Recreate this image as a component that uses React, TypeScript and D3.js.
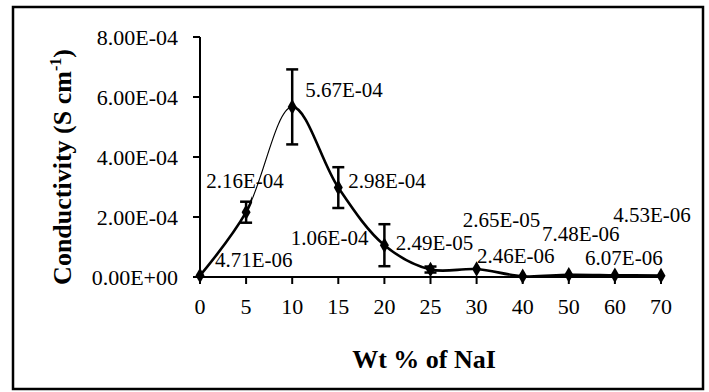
import React from "react";
import * as d3 from "d3";

const categories = ["0", "5", "10", "15", "20", "25", "30", "40", "50", "60", "70"];
const values = [4.71e-6, 2.16e-4, 5.67e-4, 2.98e-4, 1.06e-4, 2.49e-5, 2.65e-5, 2.46e-6, 7.48e-6, 6.07e-6, 4.53e-6];
const errors = [0, 3.5e-5, 1.25e-4, 6.8e-5, 7.0e-5, 1.0e-5, 0, 0, 0, 0, 0];
const labels = ["4.71E-06", "2.16E-04", "5.67E-04", "2.98E-04", "1.06E-04", "2.49E-05", "2.65E-05", "2.46E-06", "7.48E-06", "6.07E-06", "4.53E-06"];
const yTicks = [0, 2e-4, 4e-4, 6e-4, 8e-4];
const yTickLabels = ["0.00E+00", "2.00E-04", "4.00E-04", "6.00E-04", "8.00E-04"];

// label placement offsets (dx, dy) from the point, and anchor
const labelPlace: [number, number, string][] = [
  [15, -9, "start"],
  [-1, -24, "middle"],
  [13, -10, "start"],
  [10, 0, "start"],
  [-16, 0, "end"],
  [4, -20, "middle"],
  [25, -42, "middle"],
  [-7, -13, "middle"],
  [12, -34, "middle"],
  [9, -10, "middle"],
  [-9, -54, "middle"],
];

const FS = { fontFamily: '"Liberation Serif"' };

export default function App() {
  const W = 709, H = 392;
  const x = d3.scalePoint<string>().domain(categories).range([200, 661]);
  const y = d3.scaleLinear().domain([0, 8e-4]).range([277, 37]);
  const pts: [number, number][] = values.map((v, i) => [x(categories[i])!, y(v)]);
  const line = d3.line().curve(d3.curveCatmullRom.alpha(0.5));
  const pathD = line(pts) || "";
  const x5 = x("5")!, x10 = x("10")!;
  const diamond = d3.symbol().type(d3.symbolDiamond).size(70)() || "";

  return (
    <svg width={W} height={H} style={{ position: "absolute", left: 0, top: 0 }}>
      <rect x={0} y={0} width={W} height={H} fill="#fff" />
      <rect x={13} y={7} width={690} height={382} fill="none" stroke="#000" strokeWidth={2.5} />
      <defs>
        <clipPath id="thin">
          <rect x={x5 + 6} y={0} width={x10 - x5 - 6} height={H} />
        </clipPath>
        <clipPath id="thickA">
          <rect x={0} y={0} width={x5 + 6} height={H} />
        </clipPath>
        <clipPath id="thickB">
          <rect x={x10} y={0} width={W} height={H} />
        </clipPath>
      </defs>
      {/* axes */}
      <line x1={200} x2={200} y1={y(8e-4)} y2={y(0)} stroke="#000" strokeWidth={2} />
      <line x1={200} x2={x("70")!} y1={y(0)} y2={y(0)} stroke="#000" strokeWidth={2} />
      {yTicks.map((t, i) => (
        <g key={"yt" + i}>
          <line x1={193} x2={200} y1={y(t)} y2={y(t)} stroke="#000" strokeWidth={2} />
          <text x={178} y={y(t)} dy="0.35em" textAnchor="end" fontSize={22} fill="#000" style={FS}>{yTickLabels[i]}</text>
        </g>
      ))}
      {categories.map((c) => (
        <g key={"xt" + c}>
          <line x1={x(c)!} x2={x(c)!} y1={y(0)} y2={y(0) + 7} stroke="#000" strokeWidth={2} />
          <text x={x(c)!} y={314} textAnchor="middle" fontSize={22} fill="#000" style={FS}>{c}</text>
        </g>
      ))}
      {/* curve */}
      <path d={pathD} fill="none" stroke="#000" strokeWidth={2.6} clipPath="url(#thickA)" />
      <path d={pathD} fill="none" stroke="#000" strokeWidth={2.6} clipPath="url(#thickB)" />
      <path d={pathD} fill="none" stroke="#000" strokeWidth={1.1} clipPath="url(#thin)" />
      {/* error bars */}
      {values.map((v, i) => errors[i] > 0 ? (
        <g key={"e" + i} stroke="#000" strokeWidth={2.5}>
          <line x1={pts[i][0]} x2={pts[i][0]} y1={y(v + errors[i])} y2={y(v - errors[i])} />
          <line x1={pts[i][0] - 6} x2={pts[i][0] + 6} y1={y(v + errors[i])} y2={y(v + errors[i])} />
          <line x1={pts[i][0] - 6} x2={pts[i][0] + 6} y1={y(v - errors[i])} y2={y(v - errors[i])} />
        </g>
      ) : null)}
      {/* markers */}
      {pts.map((p, i) => (
        <path key={"m" + i} d={diamond} transform={`translate(${p[0]},${p[1]})`} fill="#000" />
      ))}
      {/* data labels */}
      {pts.map((p, i) => (
        <text key={"l" + i} x={p[0] + labelPlace[i][0]} y={p[1] + labelPlace[i][1]} textAnchor={labelPlace[i][2] as any} fontSize={21} fill="#000" style={FS}>{labels[i]}</text>
      ))}
      {/* axis titles */}
      <text transform="translate(71,167) rotate(-90)" textAnchor="middle" fontSize={26} fontWeight="bold" fill="#000" style={FS}>
        Conductivity (S cm<tspan fontSize={16} dy={-10}>-1</tspan><tspan dy={10}>)</tspan>
      </text>
      <text x={424} y={368} textAnchor="middle" fontSize={26} fontWeight="bold" fill="#000" style={FS}>Wt % of NaI</text>
    </svg>
  );
}
